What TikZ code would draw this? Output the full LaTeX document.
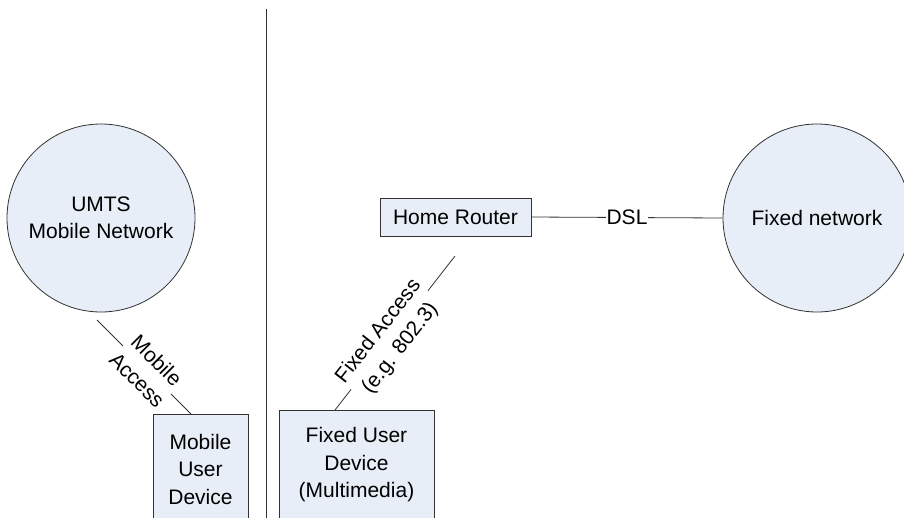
\documentclass[tikz,border=0pt]{standalone}
\usepackage{fontspec}
\setmainfont{Liberation Sans}
\definecolor{boxfill}{RGB}{232,238,247}
\definecolor{linegrey}{RGB}{50,50,50}
\begin{document}
\begin{tikzpicture}[x=1pt,y=-1pt,
  every node/.style={font=\fontsize{21}{27.5}\selectfont},
  netcircle/.style={circle,draw=linegrey,fill=boxfill,line width=0.8pt,minimum size=188pt,inner sep=0pt,align=center},
  devbox/.style={rectangle,draw=linegrey,fill=boxfill,line width=0.8pt,inner sep=0pt,align=center},
  conn/.style={draw=linegrey,line width=0.8pt},
  lbl/.style={fill=white,inner sep=1pt,align=center}]
\useasboundingbox (0,0) rectangle (904,517);
\clip (0,0) rectangle (904,517);
% divider
\coordinate (dtop) at (266.5,9);
\coordinate (dbot) at (266.5,530);
\draw[linegrey,line width=0.9pt] (dtop) -- (dbot);
% networks
\node[netcircle] (umts) at (101,218) {UMTS\\Mobile Network};
\node[netcircle] (fixnet) at (817,218) {Fixed network};
% devices
\node[devbox,minimum width=95pt,minimum height=110pt] (mud) at (200.5,469) {Mobile\\User\\Device};
\node[devbox,minimum width=155pt,minimum height=110pt] (fud) at (356.5,465) {Fixed User\\Device\\(Multimedia)};
\node[devbox,minimum width=151pt,minimum height=38pt] (hr) at (455.5,217) {Home Router};
% DSL
\draw[conn] (hr.east) -- node[lbl] (dsl) {DSL} (fixnet.west);
% Mobile access
\coordinate (ma1) at (97,320);
\coordinate (ma2) at (191,414);
\draw[conn] (ma1) -- (ma2);
\node[lbl,rotate=-45,inner sep=0pt] (malbl) at (147,370) {Mobile\\Access};
% Fixed access
\coordinate (fa1) at (455,256);
\coordinate (fa2) at (335,410);
\draw[conn] (fa1) -- (fa2);
\node[lbl,rotate=52,inner sep=0pt] (falbl) at (389.5,340) {Fixed Access\\(e.g. 802.3)};
\end{tikzpicture}
\end{document}
